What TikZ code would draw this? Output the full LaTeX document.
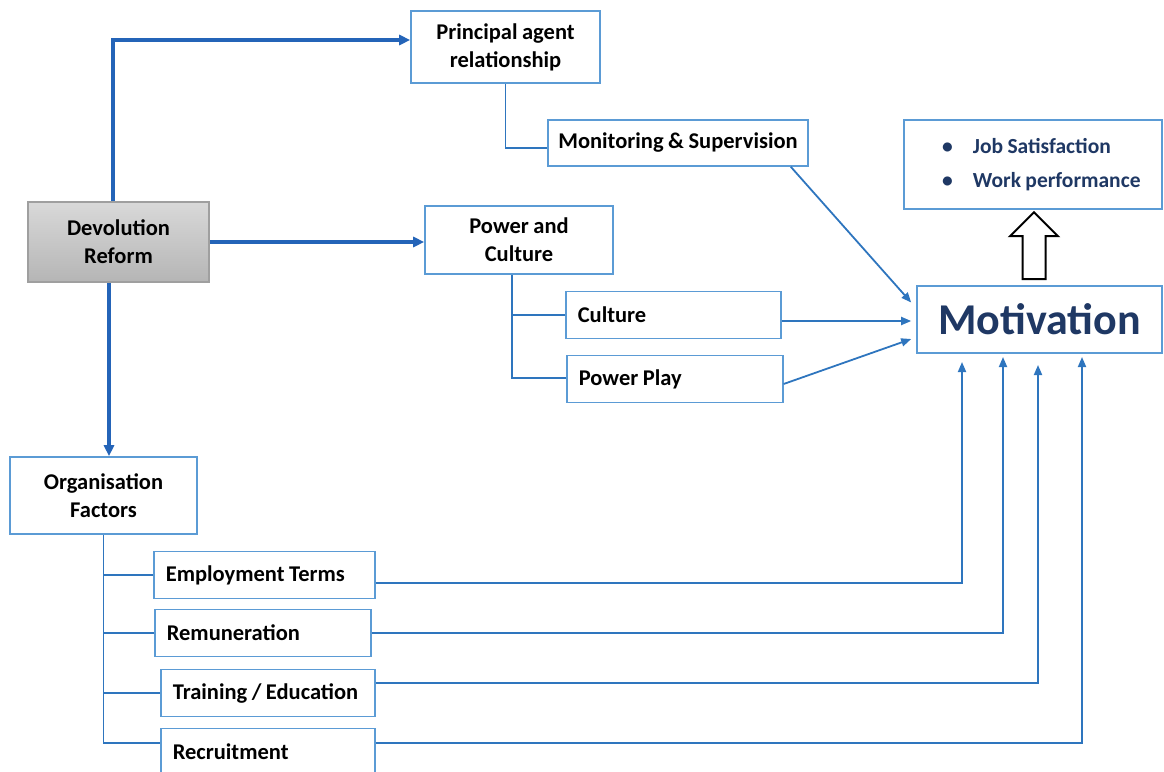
\documentclass[tikz,border=0pt]{standalone}
\usepackage{fontspec}
\setmainfont{Carlito}
\usetikzlibrary{arrows.meta}
\usetikzlibrary{calc}
\definecolor{boxblue}{RGB}{91,155,213}
\definecolor{lineblue}{RGB}{46,117,190}
\definecolor{darkline}{RGB}{36,100,184}
\definecolor{navy}{RGB}{31,56,100}
\newcommand{\tightsp}{\spaceskip 0.2em\relax}

\tikzset{
  box/.style={draw=boxblue, line width=1.6pt, fill=white, inner sep=0pt, align=center, font=\bfseries\fontsize{22.5}{28}\selectfont\tightsp},
  lbox/.style={box, anchor=west, align=flush left, inner xsep=12pt, minimum height=47pt},
  mainarrow/.style={draw=darkline, line width=3.4pt, -{Triangle[length=11pt,width=10pt]}},
  link/.style={draw=lineblue, line width=1.8pt},
  linkarrow/.style={link, -{Triangle[length=10pt,width=8pt]}},
}

\begin{document}
\begin{tikzpicture}[x=1pt,y=1pt,yscale=-1,xscale=1]
\useasboundingbox (0,0) rectangle (1164,771);

%Shape: Rectangle [Devolution]
\node[box, draw=gray!75, top color=gray!30, bottom color=gray!58, minimum width=181pt, minimum height=80pt] (dev) at (118.5,242) {Devolution\\Reform};
%Shape: Rectangle [Principal agent]
\node[box, minimum width=189pt, minimum height=72pt] (pa) at (505.5,47) {Principal agent\\relationship};
%Shape: Rectangle [Monitoring]
\node[box, minimum width=260pt, minimum height=46pt] (mon) at (678,143) {Monitoring \& Supervision};
%Shape: Rectangle [Power and Culture]
\node[box, minimum width=188pt, minimum height=68pt] (pc) at (519,240) {Power and\\Culture};
\node[lbox, text width=191pt] (cul) at (565,315) {Culture};
\node[lbox, text width=192pt] (pp) at (566,379) {Power Play};
%Shape: Rectangle [Organisation]
\node[box, minimum width=187pt, minimum height=77pt] (of) at (103.5,495.5) {Organisation\\Factors};
\node[lbox, text width=197pt] (et) at (153,575) {Employment Terms};
\node[lbox, text width=192pt] (rem) at (154,633) {Remuneration};
\node[lbox, text width=190pt] (tr) at (160,693) {Training / Education};
\node[lbox, text width=190pt] (rec) at (160,752) {Recruitment};
%Shape: Rectangle [Motivation]
\node[box, font=\bfseries\fontsize{44}{48}\selectfont, text=navy, minimum width=245pt, minimum height=67pt] (mot) at (1039.5,319.5) {Motivation};
%Shape: Rectangle [outcomes]
\node[box, font=\bfseries\fontsize{21.5}{34}\selectfont\tightsp, text=navy, minimum width=258pt, minimum height=89pt, text width=240pt, align=flush left] (js) at (1033,164.5)
  {\hspace*{29pt}\makebox[31pt][l]{\textbullet}Job Satisfaction\\
   \hspace*{29pt}\makebox[31pt][l]{\textbullet}Work performance};

% Devolution arrows
\coordinate (devn) at ($(dev.north)+(-5.5,0)$);
\coordinate (devs) at ($(dev.south)+(-9.5,0)$);
\draw[mainarrow] (devn) |- ($(pa.west)+(0,-7)$);
\draw[mainarrow] (dev.east) -- (dev.east -| pc.west);
\draw[mainarrow] (devs) -- (devs |- of.north);

% Principal agent branch
\draw[link] (pa.south) |- ($(mon.west)+(0,5)$);
\draw[linkarrow] ($(mon.south east)+(-18,0)$) -- ($(mot.west)+(-5,-17)$);

% Power and Culture branch
\coordinate (pcb) at ($(pc.south)+(-7,0)$);
\draw[link] (pcb) |- ($(pp.west)+(0,-1)$);
\draw[link] (cul.west) -- (cul.west -| pcb);
\draw[linkarrow] ($(cul.east)+(0,6)$) -- ($(mot.west)+(-5,1.5)$);
\draw[linkarrow] ($(pp.east)+(0,5)$) -- ($(mot.west)+(-5,19.5)$);

% Organisation branch
\draw[link] (of.south) |- ($(rec.west)+(0,-9)$);
\draw[link] (et.west) -- (et.west -| of.south);
\draw[link] (rem.west) -- (rem.west -| of.south);
\draw[link] (tr.west) -- (tr.west -| of.south);

\coordinate (m1) at (962,362);
\coordinate (m2) at (1003,357);
\coordinate (m3) at (1038,365);
\coordinate (m4) at (1082,357);
\draw[linkarrow] ($(et.east)+(0,8)$) -| (m1);
\draw[linkarrow] (rem.east) -| (m2);
\draw[linkarrow] ($(tr.east)+(0,-10)$) -| (m3);
\draw[linkarrow] ($(rec.east)+(0,-9)$) -| (m4);

%Shape: Up Arrow
\coordinate (ub) at ($(mot.north)+(-5.5,-6)$);
\draw[line width=2pt, fill=white] ($(ub)+(-11.5,0)$) -- ++(0,-43) -- ++(-12.5,0) -- ($(ub)+(0,-67)$)
  -- ($(ub)+(24,-43)$) -- ++(-12.5,0) -- ($(ub)+(11.5,0)$) -- cycle;

\end{tikzpicture}
\end{document}
